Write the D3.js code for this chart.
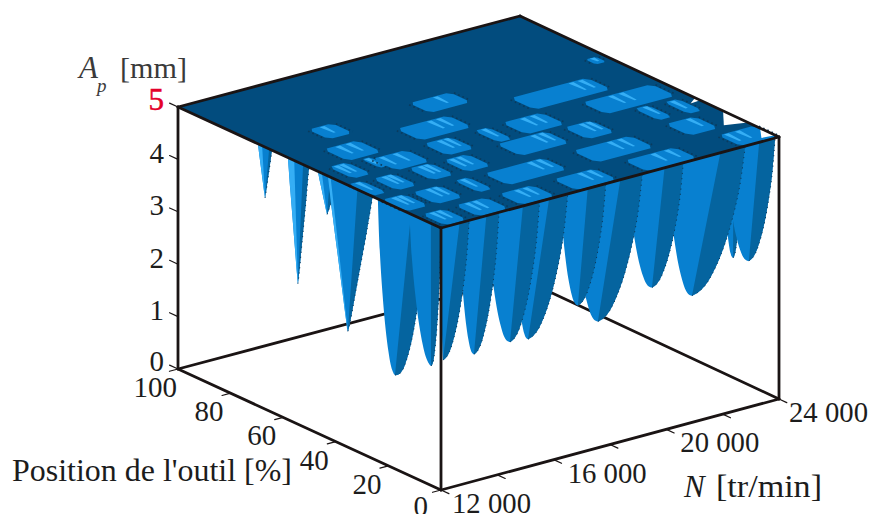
<!DOCTYPE html>
<html><head><meta charset="utf-8">
<script src="https://cdn.jsdelivr.net/npm/d3@7/dist/d3.min.js"></script>
<style>html,body{margin:0;padding:0;background:#fff}svg{display:block}text{font-family:"Liberation Serif",serif}</style>
</head><body><svg id="c" width="873" height="514"></svg>
<script>
// ---- axis ticks
const zTicks=[0,1,2,3,4,5];
const pTicks=[0,20,40,60,80,100];
const nTicks=[12000,14000,16000,18000,20000,22000,24000];
const nLabels=[12000,16000,20000,24000];
// ---- lobes hanging on the front-right face (p = 0): rpm at top left, tip, top right and lowest Ap
const rightLeft=[22000,22100,20050,18650,16700,16250,14550,13650,12650,12000];
const rightTip =[22370,22930,20910,19490,17570,16860,15090,14450,13170,12070];
const rightEnd =[22690,23860,22800,20600,19150,17850,16500,15500,14060,13000];
const rightMin =[2.93,2.79,2.42,2.78,2.41,2.82,2.43,2.47,2.42,2.47];
const rightDark=[.55,.68,.68,.66,.68,.6,.66,.68,.68,.66];
// ---- lobes hanging on the front-left face (N = 12 000): position at top far, tip, top near and lowest Ap
const leftFar =[69.6,58.2,46.8,36.5,43,17.5,24,12];
const leftTip =[66.9,54.4,43.3,31.2,35.4,11,17.5,3.8];
const leftNear=[64.3,50.2,39.2,26.2,26,6,6,0];
const leftMin =[4.03,2.68,4.26,3.8,2.21,3.12,1.79,2.28];
const leftDark=[.8,.72,.6,.7,.66,.1,.7,.68];
const leftLight=[.3,.3,.2,.5,.06,0,0,0];
const leftRounded=[false,false,false,false,false,true,true,true];
// ---- outline of a lobe: height fraction above its tip and half width fraction
const roundDepth=[0,.015,.05,.12,.25,.45,.7,1];
const roundWidth=[0,.13,.25,.38,.55,.73,.89,1];
const sharpDepth=[0,.08,.25,.5,.75,1];
const sharpWidth=[0,.1,.27,.52,.77,1];
// ---- cavities in the 5 mm plateau
const pocketN=[12610,13940,15530,17590,20260,23350, 12420,13540,14830,16640,19690,22570, 12280,13210,14520,15740,18160,20080,22340,23320, 12760,13700,14400,16150,17690,19140,22440, 13780,16700,21180, 14220,18050,23560];
const pocketP=[5.2,5.2,5.1,5.1,4.9,4.9, 18.2,17.8,18,17.6,17,18, 31,30.5,30.8,30.2,31.2,30.4,30.4,29.6, 42.8,43.4,41,41.6,41.3,41.6,41, 52.8,53.2,53.4, 66,65.7,65.9];
const pocketSpanN=[770,1070,1200,1450,1780,1300, 800,960,480,2100,2030,1030, 480,720,780,850,1740,960,480,480, 640,300,1200,960,480,1380,2450, 1200,1800,2700, 840,1440,360];
const pocketSpanP=[9,9,9,9,9,9, 9.5,9.5,9.5,9.5,9.5,9.5, 9.5,9.5,9.5,9.5,9.5,9.5,9.5,9.5, 9.5,7,9.5,9.5,9.5,9.5,9.5, 9.5,9.5,9.5, 8,8,4];
const pocketLights=[[.4,.7],[.35,.6],[.5,.75],[.62,.85],[.55,.82],[.2,.5],[.5,.75],[.55,.8],[.5],[.75,.9],[.62,.8],[.75],[.6],[.5,.75],[.5,.75],[.3,.6],[.72,.88],[.6,.85],[.7],[.5],[.35,.65],[.5],[.25,.65],[.55,.8],[.6],[.5,.75],[.4,.55],[.4,.7],[.62,.8],[.78,.9],[.55],[.62],[.6]];
// ---- openings where the plateau is cut by the rear-right edge: [N,p] triples
const gapN=[[24000,24000,23330],[24000,24000,23560],[24000,24000,23620]];
const gapP=[[21.6,12,14],[7.3,1.5,2],[32.4,30.4,30]];

const colors={plate:"#024c7e",main:"#0880d0",dark:"#05649f",light:"#35aef5",line:"#1a1414",spot:"#0b3a5c",text:"#1c1c1c",soft:"#3a3a3a",red:"#e4002b"};

const svg=d3.select("#c");
const tS=d3.scaleLinear().domain([12000,24000]).range([0,1]);
const uS=d3.scaleLinear().domain([0,100]).range([0,1]);
const zS=d3.scaleLinear().domain([0,5]).range([262,0]);
const box={x:441,y:228,ax:338,ay:-91,bx:-263,by:-121,cx:4,cy:0};
function P(N,p,z){
  const t=tS(N),u=uS(p);
  return [box.x+t*box.ax+u*box.bx+t*u*box.cx, box.y+t*box.ay+u*box.by+t*u*box.cy+zS(z)];
}
const lin=d3.line();
const smooth=d3.line().curve(d3.curveCatmullRom.alpha(.5));
const poly=(pts,fill)=>svg.append("path").attr("d",lin(pts)+"Z").attr("fill",fill);
const seg=(a,b,w=2.8)=>svg.append("line").attr("x1",a[0]).attr("y1",a[1]).attr("x2",b[0]).attr("y2",b[1]).attr("stroke",colors.line).attr("stroke-width",w).attr("stroke-linecap","round");

seg(P(12000,100,0),P(24000,100,0));
seg(P(24000,100,0),P(24000,0,0));

function lobe(lo,tip,hi,zm,place,depths,widths,darkF,lightF){
  const side=e=>depths.map((d,i)=>place(tip+(e-tip)*widths[i], zm+(5-zm)*d));
  const L=side(lo), R=side(hi);
  const outline=[...L.slice().reverse(),...R.slice(1)];
  svg.append("path").attr("d",smooth(outline)+"Z").attr("fill",colors.main);
  if(lightF>0){
    const a=place(lo+(hi-lo)*lightF,5);
    svg.append("path").attr("d",smooth(L)+"L"+a+"Z").attr("fill",colors.light);
  }
  const b=place(lo+(hi-lo)*darkF,5);
  svg.append("path").attr("d",smooth(R)+"L"+b+"Z").attr("fill",colors.dark);
  svg.append("path").attr("d",smooth(R)).attr("fill","none").attr("stroke",colors.spot).attr("stroke-width",1).attr("stroke-dasharray","1.2 4");
}
leftTip.forEach((v,i)=>lobe(leftFar[i],v,leftNear[i],leftMin[i],(p,z)=>P(12000,p,z),
  leftRounded[i]?roundDepth:sharpDepth,leftRounded[i]?roundWidth:sharpWidth,leftDark[i],leftLight[i]));
rightTip.forEach((v,i)=>lobe(rightLeft[i],v,rightEnd[i],rightMin[i],(N,z)=>P(N,0,z),roundDepth,roundWidth,rightDark[i],0));

poly([P(12000,0,5),P(24000,0,5),P(24000,100,5),P(12000,100,5)],colors.plate);

pocketN.forEach((n,i)=>{
  const dn=pocketSpanN[i]/2, dp=pocketSpanP[i]/2, pc=pocketP[i];
  const cn=Math.min(dn*.35,130), cp=dp*.38;
  const n0=Math.max(12000,n-dn), n1=Math.min(24000,n+dn);
  const shape=[[n0,pc-dp+cp],[n0+cn,pc-dp],[n1-cn,pc-dp],[n1,pc-dp+cp],[n1,pc+dp-cp],[n1-cn,pc+dp],[n0+cn,pc+dp],[n0,pc+dp-cp]];
  poly(shape.map(s=>P(s[0],s[1],5)),colors.main);
  pocketLights[i].forEach(f=>{
    const nf=n0+(n1-n0)*f, w=85;
    poly([P(nf-w,pc+dp*.92,5),P(nf+w,pc+dp*.92,5),P(nf+w*.4,pc-dp*.3,5),P(nf-w*.5,pc-dp*.3,5)],colors.light);
  });
  const edge=(ne,off)=>svg.append("path").attr("d",lin([P(ne+off,pc+dp*.8,5),P(ne+off,pc-dp*.8,5)]))
     .attr("fill","none").attr("stroke",colors.spot).attr("stroke-width",1.6).attr("stroke-dasharray","1.6 3");
  edge(n0,-70); edge(n1,70);
});
gapN.forEach((g,i)=>poly(g.map((n,j)=>P(n,gapP[i][j],5)),"#fff"));

seg(P(12000,100,5),P(12000,100,0));
seg(P(12000,0,5),P(12000,0,0));
seg(P(24000,0,5),P(24000,0,0));
seg(P(12000,100,0),P(12000,0,0));
seg(P(12000,0,0),P(24000,0,0));
seg(P(12000,100,5),P(24000,100,5));
seg(P(24000,100,5),P(24000,0,5));
seg(P(12000,100,5),P(12000,0,5));
seg(P(12000,0,5),P(24000,0,5));

zTicks.forEach(z=>seg(P(12000,100,z),P(12000,103.2,z),1.2));
pTicks.forEach(p=>seg(P(12000,p,0),P(11700,p,0),1.2));
nTicks.forEach(n=>seg(P(n,0,0),P(n,-3,0),1.2));

const txt=(s,x,y,o={})=>svg.append("text").attr("x",x).attr("y",y).attr("font-size",o.size||29)
  .attr("text-anchor",o.anchor||"start").attr("fill",o.fill||colors.text).attr("font-style",o.style||null)
  .attr("font-weight",o.weight||null).attr("stroke",o.stroke||null).attr("stroke-width",o.stroke?.5:null)
  .attr("textLength",o.len||null).attr("lengthAdjust",o.len?"spacingAndGlyphs":null).text(s);

zTicks.forEach(z=>{
  const a=P(12000,100,z);
  txt(z,164,a[1]+(z===5?3:z===0?2:3.5),z===5?{anchor:"end",fill:colors.red,size:31,stroke:colors.red}:{anchor:"end"});
});
pTicks.forEach(p=>{
  const a=P(12000,p,0);
  txt(p,a[0]+(p===0?-13:p===100?-1:-7),a[1]+(p===0?26:28),{anchor:"end"});
});
const fmt=n=>String(n).replace(/(\d{2})(\d{3})/,"$1 $2");
nLabels.forEach(n=>{
  const a=P(n,0,0);
  txt(fmt(n),a[0]+(n===12000?11:n===24000?10:14),a[1]+23,{len:79});
});
txt("A",79,78,{style:"italic",fill:colors.soft,size:31});
txt("p",97,92,{style:"italic",fill:colors.soft,size:19});
txt("[mm]",120,78,{fill:colors.soft,len:67,size:30});
txt("Position de l'outil [%]",12,481,{len:280,size:31});
txt("N",684,497,{style:"italic",size:31});
txt("[tr/min]",716,497,{len:106,size:32});
</script></body></html>
